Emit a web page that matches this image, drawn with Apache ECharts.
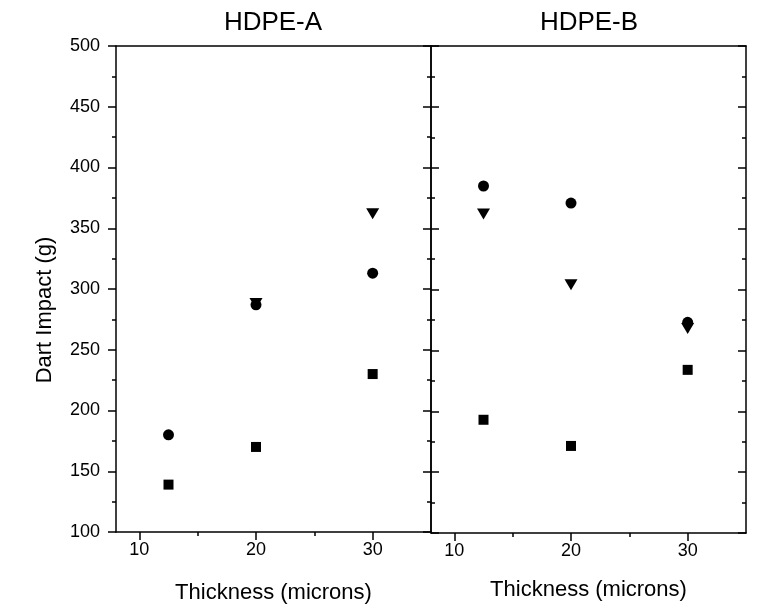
<!DOCTYPE html>
<html>
<head>
<meta charset="utf-8">
<title>Dart Impact vs Thickness</title>
<script src="https://cdn.jsdelivr.net/npm/echarts@6/dist/echarts.min.js"></script>
<style>
  html, body { margin: 0; padding: 0; background: #fff; }
  #chart { width: 757px; height: 609px; }
</style>
</head>
<body>
<div id="chart"></div>
<script>
// Film thickness (microns) at which each resin was tested
const thickness = [12.5, 20, 30];

// HDPE-A dart impact (g)
const squaresA   = [139, 170, 230];
const circlesA   = [180, 287, 313];
const trianglesA = [null, 288, 362];

// HDPE-B dart impact (g)
const squaresB   = [193, 171.5, 234];
const circlesB   = [385, 371, 273];
const trianglesB = [362, 304, 268];

const panelTitles = ['HDPE-A', 'HDPE-B'];
const xTickValues = [10, 20, 30];
const xMinorValues = [15, 25];
const yTicks = { min: 100, max: 500, interval: 50 };

const FONT = 'Liberation Sans, Arial, sans-serif';
const INK = '#000';

function pairs(xs, ys) {
  const out = [];
  xs.forEach((x, i) => { if (ys[i] != null) out.push([x, ys[i]]); });
  return out;
}

const grids = [
  { left: 116, right: 326, top: 46, bottom: 76 },
  { left: 431, right: 11, top: 46, bottom: 76 }
];
const xNameGaps = [50, 46];

const xAxes = [];
const yAxes = [];
grids.forEach((g, gi) => {
  // main x axis with labelled major ticks
  xAxes.push({
    gridIndex: gi, type: 'value', min: 8, max: 35, position: 'bottom',
    name: 'Thickness (microns)', nameLocation: 'middle', nameGap: xNameGaps[gi],
    nameTextStyle: { fontFamily: FONT, fontSize: 22, color: INK },
    axisLine: { show: true, onZero: false, lineStyle: { color: INK, width: 1.5 } },
    axisTick: { show: true, inside: false, length: 8, customValues: xTickValues, lineStyle: { color: INK, width: 1.5 } },
    axisLabel: { show: true, customValues: xTickValues, margin: 9, fontFamily: FONT, fontSize: 18, color: INK },
    splitLine: { show: false }
  });
  // minor x ticks
  xAxes.push({
    gridIndex: gi, type: 'value', min: 8, max: 35, position: 'bottom',
    axisLine: { show: false, onZero: false },
    axisTick: { show: true, inside: false, length: 4, customValues: xMinorValues, lineStyle: { color: INK, width: 1.5 } },
    axisLabel: { show: false },
    splitLine: { show: false }
  });
  // top frame line
  xAxes.push({
    gridIndex: gi, type: 'value', min: 8, max: 35, position: 'top',
    axisLine: { show: true, onZero: false, lineStyle: { color: INK, width: 1.5 } },
    axisTick: { show: false }, axisLabel: { show: false }, splitLine: { show: false }
  });

  const common = {
    gridIndex: gi, type: 'value', min: yTicks.min, max: yTicks.max, interval: yTicks.interval,
    splitLine: { show: false },
    minorTick: { show: true, splitNumber: 2, length: 4, lineStyle: { color: INK, width: 1.5 } },
    minorSplitLine: { show: false }
  };
  // left side of the panel
  yAxes.push(Object.assign({}, common, {
    position: 'left',
    axisLine: { show: true, onZero: false, lineStyle: { color: INK, width: 1.5 } },
    axisTick: { show: true, inside: gi !== 0, length: 8, lineStyle: { color: INK, width: 1.5 } },
    axisLabel: { show: gi === 0, margin: 16, fontFamily: FONT, fontSize: 18, color: INK }
  }));
  // right side of the panel
  yAxes.push(Object.assign({}, common, {
    position: 'right',
    axisLine: { show: true, onZero: false, lineStyle: { color: INK, width: 1.5 } },
    axisTick: { show: true, inside: true, length: 8, lineStyle: { color: INK, width: 1.5 } },
    axisLabel: { show: false }
  }));
});

const markerStyle = { color: INK, opacity: 1 };
function scatter(gi, ys, symbol, size, rotate) {
  return {
    type: 'scatter', xAxisIndex: gi * 3, yAxisIndex: gi * 2,
    data: pairs(thickness, ys), symbol: symbol, symbolSize: size,
    symbolRotate: rotate || 0, itemStyle: markerStyle, silent: true
  };
}

const option = {
  backgroundColor: '#fff',
  animation: false,
  title: panelTitles.map((t, i) => ({
    text: t, left: i === 0 ? 268 : 584, top: 5, textAlign: 'center',
    textStyle: { fontFamily: FONT, fontSize: 26, fontWeight: 'normal', color: INK }
  })),
  graphic: [{
    type: 'text', x: 45, y: 310, rotation: Math.PI / 2,
    style: {
      text: 'Dart Impact (g)', fontFamily: FONT, fontSize: 22, fill: INK,
      align: 'center', verticalAlign: 'middle'
    }
  }],
  grid: grids,
  xAxis: xAxes,
  yAxis: yAxes,
  series: [
    scatter(0, trianglesA, 'triangle', [13, 11], 180),
    scatter(0, circlesA, 'circle', 11),
    scatter(0, squaresA, 'rect', 10),
    scatter(1, trianglesB, 'triangle', [13, 11], 180),
    scatter(1, circlesB, 'circle', 11),
    scatter(1, squaresB, 'rect', 10)
  ]
};

echarts.init(document.getElementById('chart'), null, { renderer: 'canvas' }).setOption(option);
</script>
</body>
</html>
